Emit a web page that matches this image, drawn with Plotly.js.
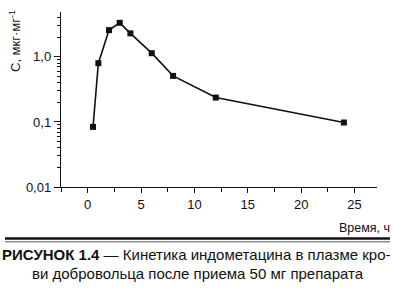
<!DOCTYPE html>
<html>
<head>
<meta charset="utf-8">
<script src="https://cdn.plot.ly/plotly-3.0.1.min.js"></script>
<style>html,body{margin:0;padding:0;background:#fff;}#chart{width:393px;height:292px;}</style>
</head>
<body>
<div id="chart"></div>
<script>
// Data
const timeH = [0.5, 1, 2, 3, 4, 6, 8, 12, 24];
const concentration = [0.084, 0.80, 2.58, 3.34, 2.3, 1.14, 0.51, 0.237, 0.098];
const yTickVals = [0.01, 0.1, 1];
const yTickText = ['0,01', '0,1', '1,0'];
const xTickVals = [0, 5, 10, 15, 20, 25];
const xMinorVals = [-2.5, 2.5, 7.5, 12.5, 17.5, 22.5];
const yTitle = 'С, мкг·мг<sup>-1</sup>';
const xTitle = 'Время, ч';
const captionLine1 = '<b>РИСУНОК 1.4</b> — Кинетика индометацина в плазме кро-';
const captionLine2 = 'ви добровольца после приема 50 мг препарата';

const minorY = [];
[0.01, 0.1, 1].forEach(d => { for (let k = 2; k <= 9; k++) minorY.push(d * k); });

const font = "'Liberation Sans', Arial, sans-serif";
// pixel -> paper helpers (plot area: x 61..377, y 12..187)
const L = 61, R = 377, T = 12, B = 187;
const px = x => (x - L) / (R - L);
const py = y => (B - y) / (B - T);

const trace = {
  x: timeH, y: concentration, type: 'scatter', mode: 'lines+markers',
  line: {color: '#111', width: 1.6},
  marker: {symbol: 'square', size: 6, color: '#111'},
  hoverinfo: 'none'
};
// invisible trace so the overlay axes (minor ticks) are drawn
const helper = {x: [xTickVals[0]], y: [yTickVals[2]], xaxis: 'x2', yaxis: 'y2', type: 'scatter', mode: 'markers',
  marker: {opacity: 0}, hoverinfo: 'none', showlegend: false};

const yRange = [-2, 0.69];
const xRange = [-2.5, 27.1];

const layout = {
  width: 393, height: 292,
  margin: {l: L, r: 393 - R, t: T, b: 292 - B, pad: 0},
  paper_bgcolor: '#ffffff', plot_bgcolor: '#ffffff',
  showlegend: false,
  font: {family: font, size: 13, color: '#111'},
  xaxis: {
    range: xRange, showgrid: false, zeroline: false,
    showline: true, linecolor: '#111', linewidth: 1.2,
    ticks: 'outside', ticklen: 5, tickwidth: 1, tickcolor: '#111',
    tickmode: 'array', tickvals: xTickVals, ticktext: xTickVals.map(String),
    tickfont: {family: font, size: 13, color: '#111'}
  },
  yaxis: {
    type: 'log', range: yRange, showgrid: false, zeroline: false,
    showline: true, linecolor: '#111', linewidth: 1.2,
    ticks: 'outside', ticklen: 6, tickwidth: 1, tickcolor: '#111',
    tickmode: 'array', tickvals: yTickVals, ticktext: yTickText,
    tickfont: {family: font, size: 13, color: '#111'}
  },
  xaxis2: {
    overlaying: 'x', anchor: 'y', side: 'bottom', range: xRange, showgrid: false, zeroline: false, showline: false,
    ticks: 'outside', ticklen: 4, tickwidth: 1, tickcolor: '#111',
    tickmode: 'array', tickvals: xMinorVals, showticklabels: false
  },
  yaxis2: {
    overlaying: 'y', anchor: 'x', side: 'left', type: 'log', range: yRange, showgrid: false, zeroline: false, showline: false,
    ticks: 'outside', ticklen: 3, tickwidth: 1, tickcolor: '#111',
    tickmode: 'array', tickvals: minorY, showticklabels: false
  },
  shapes: [
    {type: 'line', xref: 'paper', yref: 'paper', x0: px(5), x1: px(390), y0: py(238.5), y1: py(238.5), line: {color: '#111', width: 2.6}},
    {type: 'line', xref: 'paper', yref: 'paper', x0: px(5), x1: px(390), y0: py(241.8), y1: py(241.8), line: {color: '#555', width: 1}}
  ],
  annotations: [
    {text: yTitle, xref: 'paper', yref: 'paper', x: px(15), y: py(41), textangle: -90, showarrow: false,
     xanchor: 'center', yanchor: 'middle', font: {family: font, size: 13, color: '#111'}},
    {text: xTitle, xref: 'paper', yref: 'paper', x: px(364), y: py(228), showarrow: false,
     xanchor: 'center', yanchor: 'middle', font: {family: font, size: 12.5, color: '#111'}},
    {text: captionLine1, xref: 'paper', yref: 'paper', x: px(196.5), y: py(254), showarrow: false,
     xanchor: 'center', yanchor: 'middle', font: {family: font, size: 15, color: '#111'}},
    {text: captionLine2, xref: 'paper', yref: 'paper', x: px(198), y: py(273), showarrow: false,
     xanchor: 'center', yanchor: 'middle', font: {family: font, size: 15, color: '#111'}}
  ]
};

Plotly.newPlot('chart', [trace, helper], layout, {staticPlot: true, displayModeBar: false});
</script>
</body>
</html>
